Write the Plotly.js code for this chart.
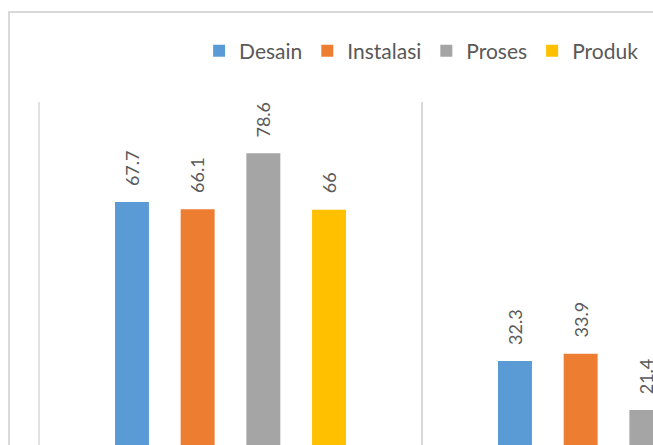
<!DOCTYPE html>
<html>
<head>
<meta charset="utf-8">
<script src="https://cdn.plot.ly/plotly-3.0.1.min.js"></script>
<style>
html, body { margin: 0; padding: 0; overflow: hidden; background: #ffffff; width: 653px; height: 445px; }
#frame { position: absolute; left: 8px; top: 11px; border: 2px solid #d9d9d9; background: #ffffff; }
#chart { width: 830px; height: 540px; }
</style>
</head>
<body>
<div id="frame"><div id="chart"></div></div>
<script>
// Data
const categories = ["Ya", "Tidak"];
const seriesNames = ["Desain", "Instalasi", "Proses", "Produk"];
const desain = [67.7, 32.3];
const instalasi = [66.1, 33.9];
const proses = [78.6, 21.4];
const produk = [66, 34];

const seriesValues = [desain, instalasi, proses, produk];
const colors = ["#5B9BD5", "#ED7D31", "#A5A5A5", "#FFC000"];

const bargap = 0.314;
const bargroupgap = 0.483;
const labelFont = { family: "Lato, 'Open Sans', sans-serif", size: 18, color: "#595959" };

const traces = seriesNames.map((name, j) => ({
  type: "bar",
  name: name,
  x: categories,
  y: seriesValues[j],
  marker: { color: colors[j] },
  hoverinfo: "none"
}));

// Rotated data labels above each bar
const slot = (1 - bargap) / seriesNames.length;
const annotations = [];
seriesNames.forEach((name, j) => {
  seriesValues[j].forEach((v, i) => {
    annotations.push({
      x: i + (j - (seriesNames.length - 1) / 2) * slot,
      y: v,
      xref: "x", yref: "y",
      text: String(v),
      textangle: -90,
      showarrow: false,
      xanchor: "center",
      yanchor: "bottom",
      yshift: 14,
      font: labelFont
    });
  });
});

const layout = {
  width: 830,
  height: 540,
  margin: { l: 29, r: 35, t: 89, b: 47 },
  paper_bgcolor: "#ffffff",
  plot_bgcolor: "#ffffff",
  barmode: "group",
  bargap: bargap,
  bargroupgap: bargroupgap,
  showlegend: true,
  legend: {
    orientation: "h",
    x: 0.209, xanchor: "left",
    y: 1.126, yanchor: "middle",
    font: { family: "Lato, 'Open Sans', sans-serif", size: 21, color: "#595959" },
    traceorder: "normal"
  },
  xaxis: {
    type: "category",
    tickson: "boundaries",
    showgrid: true,
    gridcolor: "#d9d9d9",
    gridwidth: 1.5,
    ticks: "",
    showline: false,
    zeroline: false,
    showticklabels: false
  },
  yaxis: {
    range: [0, 90],
    showgrid: false,
    zeroline: false,
    showline: false,
    showticklabels: false,
    ticks: ""
  },
  shapes: [{
    type: "line",
    xref: "paper", yref: "paper",
    x0: 0, x1: 0, y0: 0, y1: 1,
    line: { color: "#d9d9d9", width: 1.5 },
    layer: "below"
  }],
  annotations: annotations
};

Plotly.newPlot("chart", traces, layout, { displayModeBar: false, staticPlot: true });
</script>
</body>
</html>
